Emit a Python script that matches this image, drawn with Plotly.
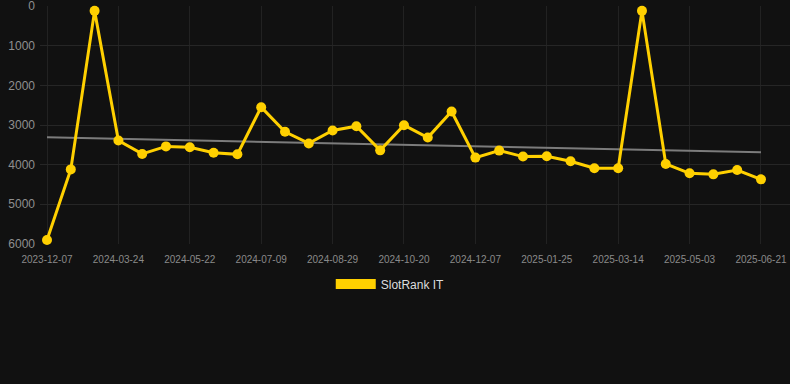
import plotly.graph_objects as go

dates = [
    "2023-12-07", "2024-01-12", "2024-02-17", "2024-03-24", "2024-04-13", "2024-05-02",
    "2024-05-22", "2024-06-07", "2024-06-23", "2024-07-09", "2024-07-26", "2024-08-12",
    "2024-08-29", "2024-09-15", "2024-10-03", "2024-10-20", "2024-11-05", "2024-11-21",
    "2024-12-07", "2024-12-23", "2025-01-09", "2025-01-25", "2025-02-10", "2025-02-26",
    "2025-03-14", "2025-03-31", "2025-04-17", "2025-05-03", "2025-05-19", "2025-06-05",
    "2025-06-21",
]
rank_values = [
    5900, 4120, 120, 3390, 3730, 3540, 3560, 3700, 3740, 2550, 3170, 3465,
    3140, 3030, 3640, 3005, 3316, 2658, 3823, 3646, 3797, 3790, 3916, 4093,
    4093, 120, 3983, 4219, 4245, 4135, 4372,
]
trend_dates = [dates[0], dates[-1]]
trend_values = [3310, 3690]
tick_labels = dates[::3]
y_ticks = [0, 1000, 2000, 3000, 4000, 5000, 6000]

series_name = "SlotRank IT"
yellow = "#FFD000"
font_family = "Liberation Sans, Arial, sans-serif"

fig = go.Figure()
fig.add_trace(go.Scatter(
    x=trend_dates, y=trend_values, mode="lines",
    line=dict(color="#7c7c7c", width=2), showlegend=False, hoverinfo="skip",
))
fig.add_trace(go.Scatter(
    x=dates, y=rank_values, mode="lines+markers", name=series_name,
    line=dict(color=yellow, width=3), marker=dict(color=yellow, size=10),
    cliponaxis=False, showlegend=False,
))
fig.add_trace(go.Scatter(
    x=[None], y=[None], mode="lines", name=series_name,
    line=dict(color=yellow, width=11), showlegend=True,
))

fig.update_layout(
    width=790, height=384,
    margin=dict(l=40, r=0, t=6, b=140),
    paper_bgcolor="#111111", plot_bgcolor="#111111",
    font=dict(family=font_family, color="#999999"),
    showlegend=True,
    legend=dict(
        orientation="h", x=0.467, xanchor="center", y=-0.168, yanchor="middle",
        font=dict(size=12, color="#dddddd", family=font_family),
        itemwidth=40, bgcolor="rgba(0,0,0,0)",
    ),
    xaxis=dict(
        type="category", categoryorder="array", categoryarray=dates,
        range=[-0.294, 31.22], tickvals=tick_labels, ticktext=tick_labels,
        tickfont=dict(size=10, color="#8a8a8a"), showgrid=True,
        gridcolor="#222222", gridwidth=1, zeroline=False, showline=False,
        ticks="", ticklen=0, ticklabelstandoff=8,
    ),
    yaxis=dict(
        range=[6003, -3], tickvals=y_ticks, tickfont=dict(size=12, color="#8f8f8f"),
        showgrid=True, gridcolor="#262626", gridwidth=1, zeroline=False,
        showline=False, ticks="", ticklabelstandoff=4, ticklabeloverflow="allow",
    ),
)

fig.write_html("out.html")
